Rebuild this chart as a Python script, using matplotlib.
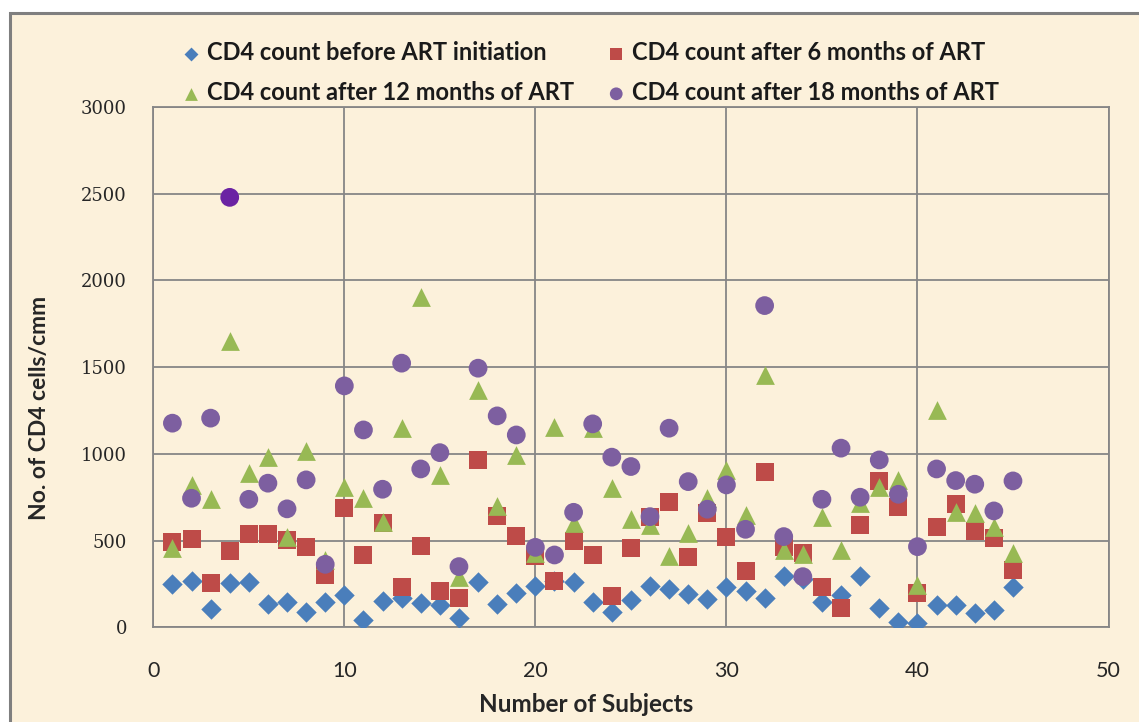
import matplotlib
matplotlib.use("Agg")
import matplotlib.pyplot as plt
from matplotlib.patches import Rectangle

# ---------------- data ----------------
subjects = list(range(1, 46))
before_art = [248, 267, 104, 254, 260, 134, 148, 90, 148, 186,
              42, 152, 167, 142, 130, 52, 263, 134, 200, 238,
              265, 260, 148, 90, 157, 240, 219, 190, 161, 234,
              211, 171, 296, 280, 148, 186, 296, 110, 33, 23,
              129, 129, 84, 100, 234]
after_6m = [494, 508, 254, 440, 537, 537, 504, 465, 302, 686,
            417, 604, 234, 469, 211, 167, 965, 642, 527, 410,
            269, 500, 417, 182, 456, 638, 725, 404, 658, 519,
            327, 894, 465, 427, 234, 109, 590, 844, 696, 196,
            577, 711, 556, 517, 331]
after_12m = [456, 821, 738, 1648, 888, 984, 523, 1017, 390, 811,
             744, 609, 1152, 1902, 879, 292, 1369, 700, 994, 430,
             1157, 600, 1148, 802, 623, 590, 411, 546, 744, 907,
             648, 1456, 446, 421, 638, 446, 715, 811, 850, 244,
             1254, 667, 658, 580, 430]
after_18m = [1177, 744, 1206, 2479, 738, 831, 683, 850, 363, 1392,
             1138, 796, 1523, 913, 1007, 350, 1494, 1219, 1109, 461,
             417, 663, 1173, 981, 927, 638, 1148, 840, 681, 821,
             565, 1855, 523, 292, 738, 1033, 750, 965, 767, 465,
             913, 846, 825, 671, 844]
labels = ["CD4 count before ART initiation",
          "CD4 count after 6 months of ART",
          "CD4 count after 12 months of ART",
          "CD4 count after 18 months of ART"]
x_ticks = [0, 10, 20, 30, 40, 50]
y_ticks = [0, 500, 1000, 1500, 2000, 2500, 3000]

# ---------------- style ----------------
W, H = 1139, 722
BG = "#FCF1DB"
GRID = "#868686"
BLUE, RED, GREEN, PURPLE = "#4A7EBB", "#BE4B48", "#98B954", "#7D5FA0"
purple_colors = [PURPLE] * len(after_18m)
purple_colors[3] = "#6B23A3"   # highlighted outlier drawn darker

fig = plt.figure(figsize=(W / 100, H / 100), dpi=100, facecolor="white")
fig.patches.append(Rectangle((10 / W, -0.05), (W + 20) / W, (H - 13) / H + 0.05,
                             transform=fig.transFigure, facecolor=BG,
                             edgecolor="#7F7F7F", linewidth=2.2, zorder=-10))

L, R, B, T = 153.3, 1108.5, 627.3, 107.0
ax = fig.add_axes([L / W, (H - B) / H, (R - L) / W, (B - T) / H])
ax.set_facecolor("none")
ax.set_zorder(2)

s_diam = 10.4 ** 2
s_sq = 13.0 ** 2
s_tri = 13.5 ** 2
s_cir = 13.5 ** 2
h1 = ax.scatter(subjects, before_art, marker="D", s=s_diam, color=BLUE, linewidths=0, zorder=3)
h2 = ax.scatter(subjects, after_6m, marker="s", s=s_sq, color=RED, linewidths=0, zorder=4)
h3 = ax.scatter(subjects, after_12m, marker="^", s=s_tri, color=GREEN, linewidths=0, zorder=5)
h4 = ax.scatter(subjects, after_18m, marker="o", s=s_cir, c=purple_colors, linewidths=0, zorder=6)

ax.set_xlim(0, 50)
ax.set_ylim(0, 3000)
ax.set_xticks(x_ticks)
ax.set_yticks(y_ticks)
ax.grid(True, color=GRID, linewidth=1.3)
ax.set_axisbelow(True)
for sp in ax.spines.values():
    sp.set_color(GRID)
    sp.set_linewidth(1.3)
ax.tick_params(axis="both", length=0)
ax.tick_params(axis="x", pad=24, labelsize=15.5, labelcolor="#262626")
ax.tick_params(axis="y", pad=19, labelsize=13, labelcolor="#262626")
for t in ax.get_xticklabels():
    t.set_fontfamily("Lato")
for t in ax.get_yticklabels():
    t.set_fontfamily("DejaVu Serif")

ax.set_xlabel("Number of Subjects", fontfamily="Lato", fontweight="bold",
              fontsize=17.5, color="#262626")
ax.xaxis.set_label_coords((586 - L) / (R - L), (B - 705) / (B - T))
ax.xaxis.label.set_va("center")
ax.set_ylabel("No. of CD4 cells/cmm", fontfamily="Lato", fontweight="bold",
              fontsize=16.5, color="#262626")
ax.yaxis.set_label_coords((40 - L) / (R - L), (B - 408) / (B - T))
ax.yaxis.label.set_va("center")

leg = fig.legend([h1, h3, h2, h4], [labels[0], labels[2], labels[1], labels[3]],
                 ncol=2, loc="upper left", bbox_to_anchor=(183 / W, (H - 41) / H),
                 frameon=False, markerscale=0.68, handlelength=0.7,
                 handletextpad=0.3, columnspacing=1.45, labelspacing=0.72,
                 borderaxespad=0, borderpad=0,
                 prop={"family": "Lato", "weight": "bold", "size": 17.0})
for t in leg.get_texts():
    t.set_color("#1a1a1a")

fig.savefig("out.png", dpi=100, facecolor="white")
